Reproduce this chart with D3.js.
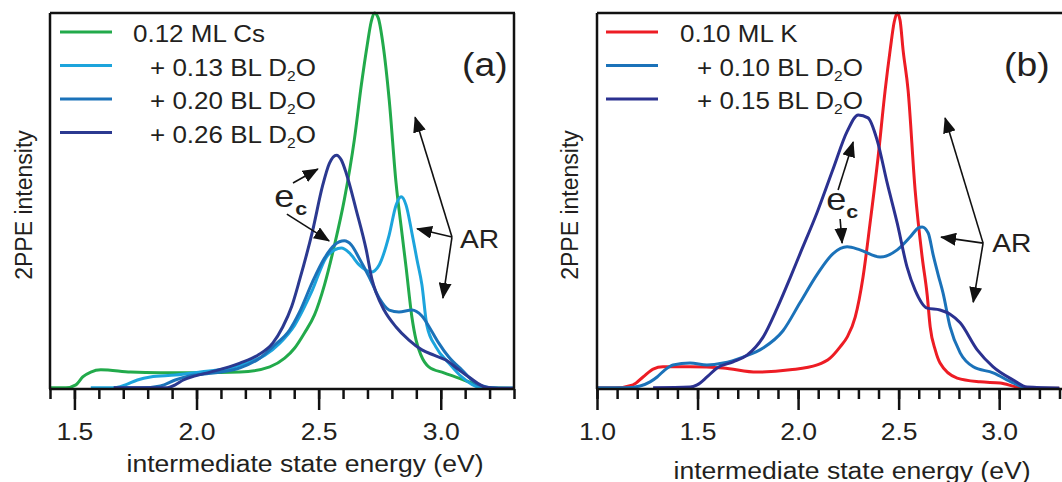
<!DOCTYPE html>
<html><head><meta charset="utf-8">
<script src="https://cdn.jsdelivr.net/npm/d3@7"></script>
<style>
body{margin:0;background:#fff}
svg{display:block;font-family:"Liberation Sans",Arial,Helvetica,sans-serif}
</style>
</head><body>
<svg id="c" width="1062" height="482"></svg>
<script>
// ---------- DATA (energy eV, 2PPE intensity arb. units, 100 = panel top) ----------
const csA = [[1.40,0.3],[1.465,0.3],[1.506,1.1],[1.534,3.2],[1.567,4.5],[1.608,5.1],[1.730,4.5],[1.852,4.3],[2.015,4.3],[2.178,4.5],[2.300,5.9],[2.361,8.2],[2.402,10.9],[2.442,14.9],[2.483,19.7],[2.524,27.7],[2.565,38.3],[2.605,50.3],[2.646,66.2],[2.675,80.9],[2.699,91.5],[2.715,97.6],[2.728,100],[2.744,98.7],[2.764,91.5],[2.789,76.9],[2.817,54.8],[2.842,41.0],[2.858,32.4],[2.882,19.1],[2.899,13.0],[2.919,9.0],[2.951,5.9],[3.013,4.3],[3.074,2.9],[3.127,1.6],[3.184,0.3],[3.30,0.2]];
const d2o013A = [[1.567,0.3],[1.661,0.3],[1.709,1.1],[1.758,2.4],[1.811,3.2],[1.913,3.7],[2.015,4.5],[2.137,5.6],[2.218,7.2],[2.280,9.0],[2.341,12.2],[2.402,17.0],[2.471,25.8],[2.532,35.1],[2.565,37.0],[2.593,37.5],[2.626,36.2],[2.666,33.0],[2.715,31.1],[2.748,33.0],[2.789,41.0],[2.817,48.9],[2.838,51.1],[2.858,48.9],[2.882,41.5],[2.903,34.3],[2.923,27.7],[2.943,17.0],[2.980,11.2],[3.033,6.9],[3.086,3.2],[3.155,0.5],[3.237,0.2],[3.30,0.2]];
const d2o020A = [[1.661,0.3],[1.771,0.3],[1.852,0.8],[1.913,2.4],[1.974,3.5],[2.076,4.3],[2.178,5.6],[2.259,8.2],[2.320,11.7],[2.381,15.7],[2.422,20.5],[2.475,28.5],[2.524,34.8],[2.565,38.3],[2.605,39.4],[2.634,38.3],[2.666,34.8],[2.707,29.8],[2.748,24.2],[2.789,21.0],[2.829,20.5],[2.882,21.0],[2.923,19.4],[2.960,15.7],[2.992,12.2],[3.033,8.5],[3.086,5.1],[3.155,1.1],[3.237,0.2],[3.30,0.2]];
const d2o026A = [[1.661,0.3],[1.872,0.3],[1.913,1.1],[1.946,2.4],[1.995,3.5],[2.056,4.5],[2.178,6.9],[2.251,9.0],[2.312,12.2],[2.353,16.5],[2.390,22.0],[2.422,29.0],[2.475,42.0],[2.516,54.0],[2.544,60.0],[2.573,62.2],[2.593,60.9],[2.613,57.4],[2.654,47.6],[2.695,37.0],[2.719,29.0],[2.736,25.5],[2.768,21.0],[2.817,16.5],[2.870,13.0],[2.923,10.4],[2.972,9.0],[3.021,7.7],[3.074,5.1],[3.115,3.2],[3.184,0.5],[3.237,0.2],[3.30,0.2]];

const kB = [[1.000,0.3],[1.090,0.3],[1.179,1.1],[1.229,3.2],[1.279,5.3],[1.328,5.9],[1.463,5.9],[1.627,5.6],[1.796,4.5],[1.960,5.1],[2.095,6.4],[2.159,8.2],[2.209,11.2],[2.244,13.8],[2.284,19.1],[2.323,29.8],[2.358,44.1],[2.398,61.7],[2.433,79.5],[2.458,90.2],[2.478,97.6],[2.493,100],[2.507,98.1],[2.522,90.2],[2.547,79.5],[2.582,52.9],[2.617,35.1],[2.642,25.0],[2.657,16.5],[2.682,10.4],[2.706,6.9],[2.791,2.9],[2.905,1.9],[3.005,1.6],[3.090,0.5],[3.154,0.2],[3.30,0.2]];
const d2o010B = [[1.000,0.3],[1.139,0.3],[1.214,0.8],[1.264,1.9],[1.299,3.2],[1.338,5.1],[1.378,6.4],[1.463,6.9],[1.547,6.4],[1.627,6.9],[1.726,8.5],[1.826,10.9],[1.925,15.5],[2.010,23.0],[2.095,30.5],[2.174,36.0],[2.244,37.8],[2.308,37.0],[2.408,35.1],[2.493,37.0],[2.557,40.4],[2.597,42.8],[2.617,43.1],[2.647,41.5],[2.672,35.6],[2.697,30.3],[2.721,25.5],[2.756,16.5],[2.806,9.6],[2.871,5.9],[2.970,4.3],[3.070,1.6],[3.139,0.3],[3.30,0.2]];
const d2o015B = [[1.279,0.3],[1.463,0.5],[1.498,1.1],[1.547,3.2],[1.597,5.6],[1.677,7.2],[1.746,9.0],[1.826,13.8],[1.896,21.5],[1.960,29.5],[2.010,36.0],[2.095,47.0],[2.174,58.5],[2.244,68.5],[2.299,72.9],[2.348,72.1],[2.393,66.2],[2.443,54.8],[2.493,44.1],[2.542,32.4],[2.582,26.3],[2.642,21.5],[2.706,21.0],[2.756,19.9],[2.806,17.6],[2.891,10.4],[2.970,5.9],[3.070,2.4],[3.139,0.5],[3.30,0.2]];

const majorTicksA = [1.5, 2.0, 2.5, 3.0];
const majorTicksB = [1.0, 1.5, 2.0, 2.5, 3.0];
const legendA = ["0.12 ML Cs", "  + 0.13 BL D_2O", "  + 0.20 BL D_2O", "  + 0.26 BL D_2O"];
const legendB = ["0.10 ML K", "  + 0.10 BL D_2O", "  + 0.15 BL D_2O"];
const colorsA = ["#22aa4b", "#1ca4dc", "#1b72b9", "#2b3990"];
const colorsB = ["#ed1c24", "#1b72b9", "#2b3190"];

// ---------- DRAWING ----------
const svg = d3.select("#c");
const SX = 1.13;           // horizontal stretch of the original figure's lettering
const TXT = "#231f20";

const defs = svg.append("defs");
defs.append("marker").attr("id","ah").attr("viewBox","0 0 16 13")
  .attr("markerUnits","userSpaceOnUse").attr("markerWidth",16).attr("markerHeight",13)
  .attr("refX",15).attr("refY",6.5).attr("orient","auto")
  .append("path").attr("d","M0,0L16,6.5L0,13Z").attr("fill","#111");

function stext(g, x, y, str, size, opts = {}) {
  const t = g.append("text")
    .attr("transform", `translate(${x},${y}) scale(${SX},1)`)
    .attr("font-size", size).attr("fill", TXT)
    .attr("text-anchor", opts.anchor || "start")
    .attr("font-weight", opts.weight || "normal");
  const parts = str.split("_");
  if (parts.length === 1) { t.text(str); return t; }
  t.append("tspan").text(parts[0]);
  t.append("tspan").attr("font-size", size * 0.6).attr("dy", 5).text(parts[1][0]);
  t.append("tspan").attr("dy", -5).text(parts[1].slice(1));
  return t;
}

function panel(cfg) {
  const g = svg.append("g");
  const x = d3.scaleLinear().domain(cfg.domain).range([cfg.left, cfg.right]);
  const y = d3.scaleLinear().domain([0, 100]).range([389, 13]);

  const clipId = "clip" + cfg.name;
  defs.append("clipPath").attr("id", clipId).append("rect")
    .attr("x", cfg.left).attr("y", 11).attr("width", cfg.right - cfg.left).attr("height", 379);

  const line = d3.line().x(d => x(d[0])).y(d => y(d[1])).curve(d3.curveMonotoneX);
  g.append("g").attr("clip-path", `url(#${clipId})`)
    .selectAll("path").data(cfg.series).join("path")
    .attr("d", d => line(d)).attr("fill", "none")
    .attr("stroke", (d, i) => cfg.colors[i]).attr("stroke-width", 3)
    .attr("stroke-linejoin", "round");

  // frame
  const fr = g.append("g").attr("stroke", "#111").attr("stroke-width", 2.5).attr("fill","none");
  fr.append("line").attr("x1", cfg.left).attr("x2", cfg.left).attr("y1", 13).attr("y2", 389);
  fr.append("line").attr("x1", cfg.left).attr("x2", cfg.frameRight).attr("y1", 13).attr("y2", 13);
  if (cfg.drawRight) fr.append("line").attr("x1", cfg.right).attr("x2", cfg.right).attr("y1", 13).attr("y2", 389);
  fr.append("line").attr("x1", cfg.left - 1).attr("x2", cfg.frameRight).attr("y1", 389).attr("y2", 389);

  // axis ticks
  const minor = d3.range(Math.round(cfg.domain[0] * 10), Math.round(cfg.domain[1] * 10) + 1).map(d => d / 10);
  const gMin = g.append("g").attr("transform", "translate(0,389)")
    .call(d3.axisBottom(x).tickValues(minor).tickSize(10).tickSizeOuter(0).tickFormat(""));
  gMin.select(".domain").remove();
  gMin.selectAll("line").attr("stroke", "#111").attr("stroke-width", 2.5);
  const gMaj = g.append("g").attr("transform", "translate(0,389)")
    .call(d3.axisBottom(x).tickValues(cfg.major).tickSize(21).tickSizeOuter(0).tickFormat(d3.format(".1f")));
  gMaj.select(".domain").remove();
  gMaj.selectAll("line").attr("stroke", "#111").attr("stroke-width", 2.5);
  gMaj.selectAll("text").attr("y", 0).attr("dy", null)
    .attr("transform", `translate(0,51) scale(${SX},1)`)
    .attr("font-size", 23.5).attr("font-family", "Liberation Sans, Arial, sans-serif").attr("fill", TXT);

  // axis titles
  stext(g, cfg.xTitleX, cfg.xTitleY, "intermediate state energy (eV)", 23.5, {anchor: "middle"});
  g.append("text").attr("transform", `translate(${cfg.yTitleX},205) rotate(-90)`)
    .attr("text-anchor", "middle").attr("font-size", 23).attr("fill", TXT).text("2PPE intensity");

  // legend
  cfg.legend.forEach((lab, i) => {
    const yy = 32 + i * 33.5;
    g.append("line").attr("x1", cfg.legX).attr("x2", cfg.legX + 52).attr("y1", yy).attr("y2", yy)
      .attr("stroke", cfg.colors[i]).attr("stroke-width", 3);
    const t = lab.startsWith("  ");
    stext(g, t ? cfg.legTx + 17 : cfg.legTx, yy + 10, lab.trim(), 23);
  });
  stext(g, cfg.tagX, 76, cfg.tag, 33);

  // annotations
  const A = cfg.ann;
  const arrow = (p, q) => g.append("line")
    .attr("x1", x(p[0])).attr("y1", y(p[1])).attr("x2", x(q[0])).attr("y2", y(q[1]))
    .attr("stroke", "#111").attr("stroke-width", 1.6).attr("marker-end", "url(#ah)");
  A.ecArrows.forEach(a => arrow(a[0], a[1]));
  A.arTips.forEach(tp => arrow(A.arOrigin, tp));
  stext(g, x(A.eLabel[0]), y(A.eLabel[1]), "e", 32);
  stext(g, x(A.cLabel[0]), y(A.cLabel[1]), "c", 19, {weight: "bold"});
  stext(g, x(A.arLabel[0]), y(A.arLabel[1]), "AR", 25);
}

panel({
  name: "A", domain: [1.4, 3.3], left: 50, right: 514, frameRight: 515, drawRight: true,
  major: majorTicksA, series: [csA, d2o013A, d2o020A, d2o026A], colors: colorsA,
  legend: legendA, legX: 60, legTx: 133, tag: "(a)", tagX: 462,
  xTitleX: 305, xTitleY: 472, yTitleX: 32,
  ann: {
    ecArrows: [[[2.395, 54.8], [2.497, 58.5]], [[2.370, 46.5], [2.543, 39.4]]],
    arOrigin: [3.046, 40.4], arTips: [[2.895, 72.3], [2.903, 42.6], [3.009, 24.2]],
    eLabel: [2.318, 48.4], cLabel: [2.404, 46.3], arLabel: [3.079, 37.5]
  }
});

panel({
  name: "B", domain: [1.0, 3.3], left: 597, right: 1059.5, frameRight: 1062, drawRight: false,
  major: majorTicksB, series: [kB, d2o010B, d2o015B], colors: colorsB,
  legend: legendB, legX: 606, legTx: 680, tag: "(b)", tagX: 1004,
  xTitleX: 852, xTitleY: 479, yTitleX: 578,
  ann: {
    ecArrows: [[[2.199, 52.9], [2.274, 65.7]], [[2.209, 45.2], [2.219, 38.8]]],
    arOrigin: [2.920, 38.8], arTips: [[2.731, 72.1], [2.711, 40.4], [2.871, 23.1]],
    eLabel: [2.140, 47.6], cLabel: [2.240, 45.5], arLabel: [2.965, 36.4]
  }
});
</script>
</body></html>
